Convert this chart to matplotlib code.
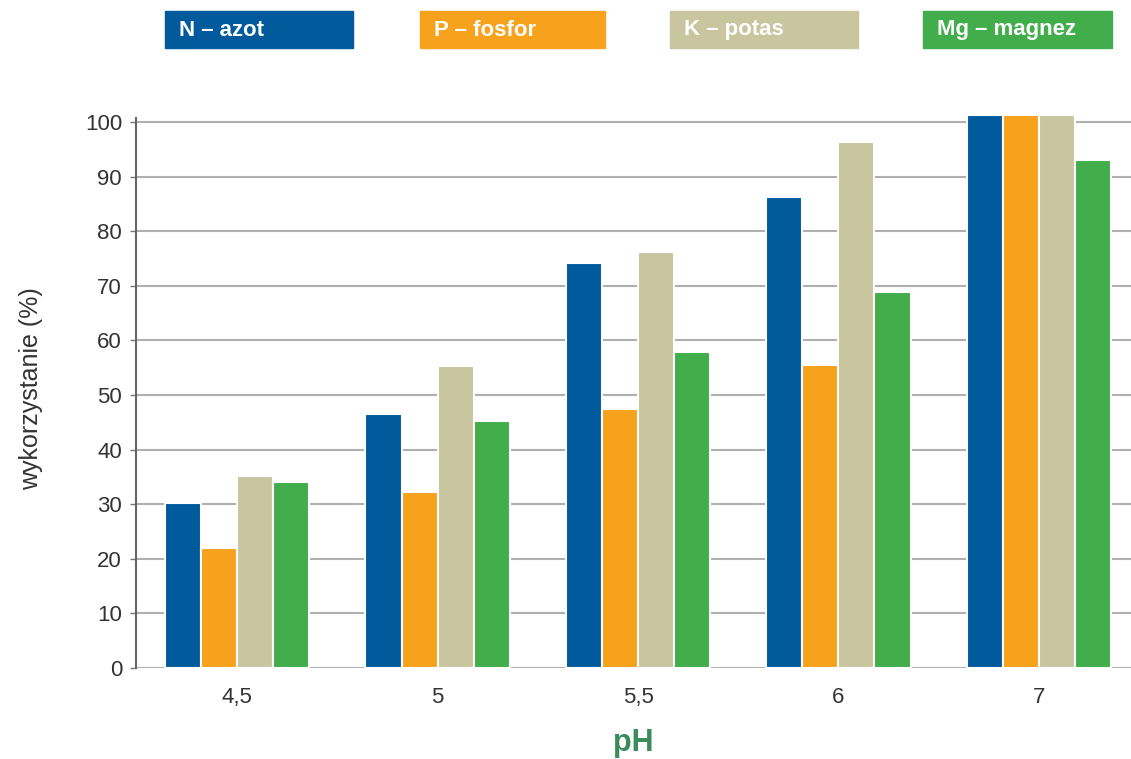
import matplotlib
matplotlib.use("Agg")
import matplotlib.pyplot as plt
from matplotlib.patches import Rectangle
import numpy as np

# pH levels and nutrient uptake (%)
ph_labels = ["4,5", "5", "5,5", "6", "7"]
azot = [30.2, 46.5, 74.2, 86.2, 101.3]
fosfor = [22.0, 32.2, 47.4, 55.5, 101.3]
potas = [35.2, 55.4, 76.2, 96.4, 101.3]
magnez = [34.0, 45.3, 57.8, 68.8, 93.1]

series = [
    ("N – azot", azot, "#005a9c"),
    ("P – fosfor", fosfor, "#f7a21c"),
    ("K – potas", potas, "#c9c59f"),
    ("Mg – magnez", magnez, "#41ae4b"),
]

plt.rcParams["font.family"] = ["Liberation Sans", "DejaVu Sans"]

fig = plt.figure(figsize=(11.31, 7.59), dpi=100)
W, H = 1131, 759
ax = fig.add_axes([136 / W, 1 - 668 / H, (1131 - 136) / W, (668 - 110) / H])

x = np.arange(len(ph_labels))
width = 0.18
for i, (name, vals, col) in enumerate(series):
    ax.bar(x + (i - 1.5) * width, vals, width, color=col,
           edgecolor="white", linewidth=1.5, zorder=3)

ax.set_xlim(-0.505, 4.46)
ax.set_ylim(0, (668 - 110) / 5.46)
ax.set_yticks(range(0, 101, 10))
ax.set_xticks(x)
ax.set_xticklabels(ph_labels)
ax.yaxis.grid(True, color="#b0b0b0", linewidth=1.5, zorder=0)
ax.tick_params(axis="x", length=0, pad=14, labelsize=16, colors="#333333")
ax.tick_params(axis="y", length=4, width=1, color="#777777", pad=6,
               labelsize=16, labelcolor="#333333")
for s in ["top", "right", "bottom"]:
    ax.spines[s].set_visible(False)
ax.spines["left"].set_color("#666666")
ax.spines["left"].set_linewidth(1.5)
ax.spines["left"].set_bounds(0, 100.8)

ax.set_ylabel("wykorzystanie (%)", fontsize=18, color="#333333", labelpad=30)
ax.set_xlabel("pH", fontsize=22, fontweight="bold", color="#3b8b5c", labelpad=14)

# legend boxes across the top
boxes = [(165, 353), (420, 605), (670, 858), (923, 1112)]
for (x0, x1), (name, vals, col) in zip(boxes, series):
    fig.patches.append(Rectangle((x0 / W, 1 - 48 / H), (x1 - x0) / W, 37 / H,
                                 transform=fig.transFigure, color=col))
    fig.text((x0 + 14) / W, 1 - 30 / H, name, color="white", fontsize=16,
             fontweight="bold", va="center", ha="left",
             family=["Liberation Sans Narrow", "Liberation Sans", "DejaVu Sans"])

fig.savefig("out.png", dpi=100)
